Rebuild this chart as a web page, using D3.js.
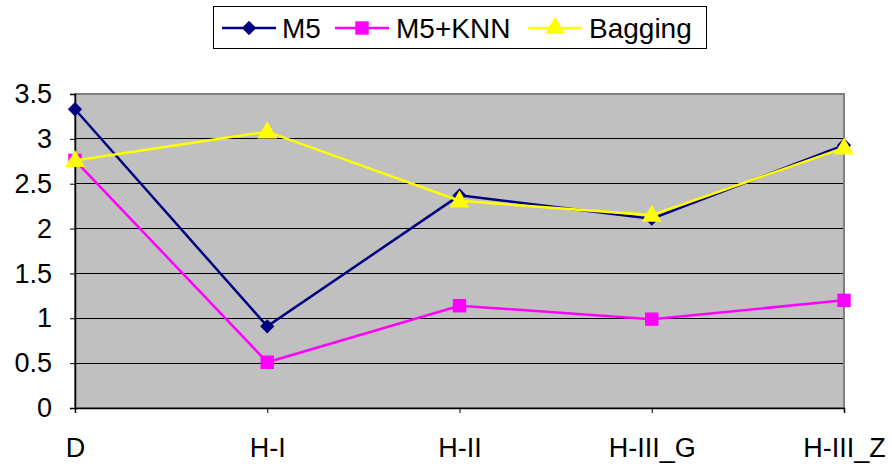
<!DOCTYPE html>
<html><head><meta charset="utf-8">
<script src="https://cdn.jsdelivr.net/npm/d3@7"></script>
<style>body{margin:0;background:#fff}svg{display:block}text{font-family:"Liberation Sans",Arial,sans-serif}</style>
</head><body><svg id="c" width="892" height="467"></svg>
<script>
const categories = ["D","H-I","H-II","H-III_G","H-III_Z"];
const m5 = [3.33, 0.91, 2.37, 2.11, 2.93];
const m5knn = [2.76, 0.51, 1.14, 0.99, 1.20];
const bagging = [2.76, 3.08, 2.31, 2.15, 2.90];
const yTicks = [0,0.5,1,1.5,2,2.5,3,3.5];
const seriesNames = ["M5","M5+KNN","Bagging"];

const series = [
  {name: seriesNames[0], values: m5, color: "#000080", marker: "diamond"},
  {name: seriesNames[1], values: m5knn, color: "#FF00FF", marker: "square"},
  {name: seriesNames[2], values: bagging, color: "#FFFF00", marker: "triangle"}
];

const svg = d3.select("#c");
const L = 75, R = 844, T = 94, B = 408;
const x = d3.scalePoint().domain(categories).range([L, R]);
const y = d3.scaleLinear().domain([0, 3.5]).range([B, T]);

svg.append("rect").attr("x", L).attr("y", T).attr("width", R - L).attr("height", B - T)
  .attr("fill", "#C0C0C0");
svg.append("g").selectAll("line").data(yTicks.filter(d => d > 0)).join("line")
  .attr("x1", L).attr("x2", R).attr("y1", d => y(d)).attr("y2", d => y(d))
  .attr("stroke", "#000").attr("stroke-width", 1).attr("shape-rendering", "crispEdges");
svg.append("rect").attr("x", L).attr("y", T).attr("width", R - L).attr("height", B - T)
  .attr("fill", "none").attr("stroke", "#808080").attr("stroke-width", 2);

const ya = svg.append("g").attr("transform", `translate(${L},0)`)
  .call(d3.axisLeft(y).tickValues(yTicks).tickFormat(d3.format("")).tickSize(5).tickPadding(18));
ya.select(".domain").attr("stroke", "#000").attr("stroke-width", 1.5);
ya.selectAll(".tick line").attr("stroke", "#000");
ya.selectAll("text").attr("font-size", 27).attr("fill", "#000")
  .attr("font-family", "'Liberation Sans',Arial,sans-serif");

const xa = svg.append("g").attr("transform", `translate(0,${B})`)
  .call(d3.axisBottom(x).tickSize(5).tickPadding(25));
xa.select(".domain").attr("stroke", "#000").attr("stroke-width", 1.5);
xa.selectAll(".tick line").attr("stroke", "#000");
xa.selectAll("text").attr("font-size", 27).attr("fill", "#000")
  .attr("font-family", "'Liberation Sans',Arial,sans-serif");

const sym = {
  diamond: d3.symbol().type(d3.symbolDiamond2 || d3.symbolDiamond).size(130),
  square: d3.symbol().type(d3.symbolSquare).size(180),
  triangle: d3.symbol().type(d3.symbolTriangle).size(170)
};
const line = d3.line().x((d, i) => x(categories[i])).y(d => y(d));

series.forEach(s => {
  const g = svg.append("g");
  g.append("path").attr("d", line(s.values)).attr("fill", "none")
    .attr("stroke", s.color).attr("stroke-width", 2.5);
  g.selectAll("path.m").data(s.values).join("path").attr("class", "m")
    .attr("transform", (d, i) => `translate(${x(categories[i])},${y(d) + (s.marker === "triangle" ? 1 : 0)})`)
    .attr("d", sym[s.marker]).attr("fill", s.color);
});

const lg = svg.append("g");
lg.append("rect").attr("x", 213.5).attr("y", 6.5).attr("width", 493).attr("height", 42)
  .attr("fill", "#fff").attr("stroke", "#000").attr("stroke-width", 1);
const legItems = [
  {s: series[0], lx: 222, tx: 282},
  {s: series[1], lx: 335, tx: 396},
  {s: series[2], lx: 528, tx: 589}
];
legItems.forEach(it => {
  lg.append("line").attr("x1", it.lx).attr("x2", it.lx + 54).attr("y1", 28).attr("y2", 28)
    .attr("stroke", it.s.color).attr("stroke-width", 2.5);
  lg.append("path").attr("transform", `translate(${it.lx + 27},${28})`)
    .attr("d", sym[it.s.marker]).attr("fill", it.s.color);
  lg.append("text").attr("x", it.tx).attr("y", 38).attr("font-size", 28).attr("fill", "#000")
    .text(it.s.name);
});
</script></body></html>
